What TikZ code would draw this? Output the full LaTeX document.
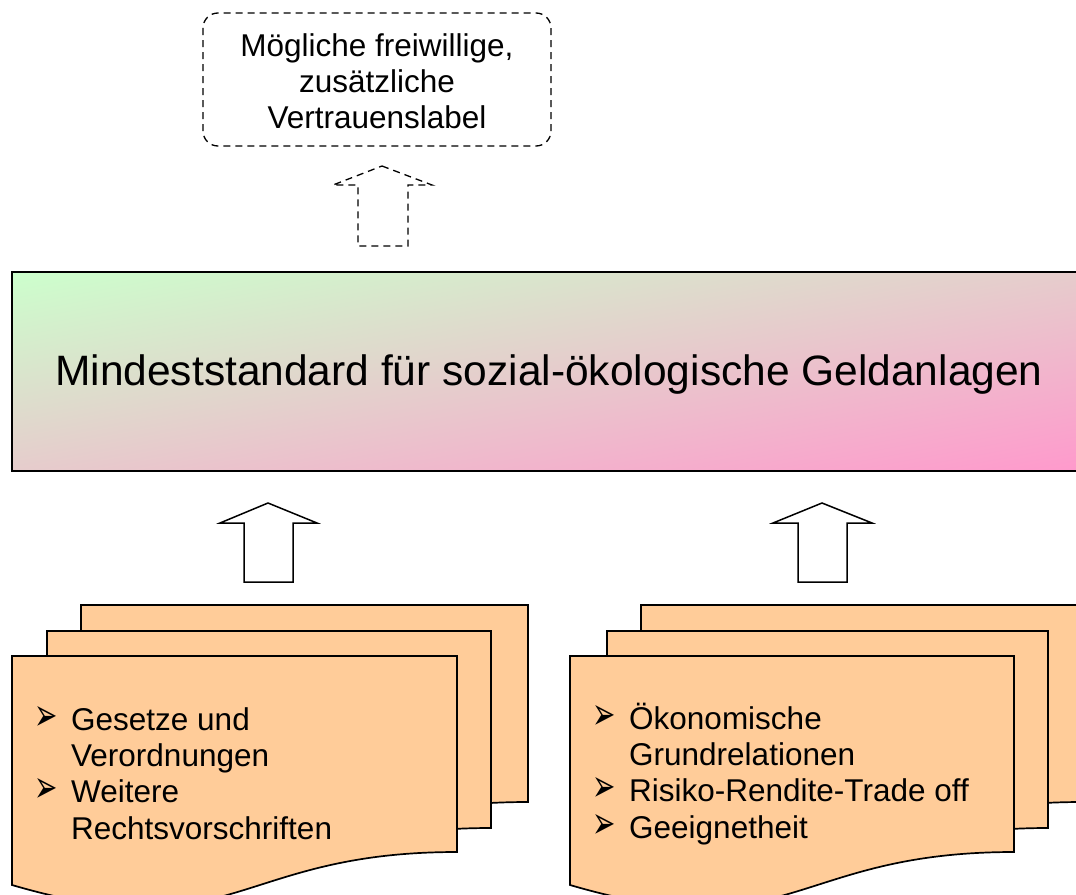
\documentclass[tikz,border=0pt]{standalone}
\usepackage{graphicx}
\usepackage{fontspec}
\setmainfont{Liberation Sans}
\newfontfamily\dingfont{DejaVu Sans}
\usetikzlibrary{calc,shadings}

\definecolor{mintgreen}{RGB}{204,255,204}
\definecolor{rosepink}{RGB}{255,153,204}
\definecolor{midrose}{RGB}{230,204,204}
\definecolor{peach}{RGB}{255,204,153}

% list bullet with hanging indent
\newcommand{\bul}{\makebox[37pt][l]{\scalebox{0.62}[1]{\dingfont\fontsize{45}{36}\selectfont ➢}}}
\newcommand{\ind}{\hspace*{37pt}}

% one sheet of a document stack: left, right, top, bottom-right y
\newcommand{\sheet}[4]{%
  \filldraw[sheetstyle] (#1,#3) -- (#2,#3) -- (#2,#4)
    .. controls ({(#1+#2)/2},#4) and ({(#1+#2)/2},{#4+98}) .. (#1,{#4+33}) -- cycle;}

\tikzset{
  sheetstyle/.style={draw=black, fill=peach, line width=1.7pt, line join=miter},
  hollowarrow/.style={draw=black, fill=white, line width=1.5pt, line join=miter},
  dasharrow/.style={draw=black, fill=white, line width=1.3pt, dash pattern=on 7pt off 5pt},
  bodytext/.style={inner sep=0pt, font=\fontsize{31.5}{35.7}\selectfont},
  listtext/.style={bodytext, align=left, font=\fontsize{31.5}{36.3}\selectfont},
}

\begin{document}
\begin{tikzpicture}[x=1pt, y=-1pt]
  \useasboundingbox (0,0) rectangle (1076,894);
  \clip (0,0) rectangle (1076,894);

  % optional label box (text anchored at the baseline of its last line)
  \draw[dasharrow, rounded corners=15pt] (203,13) rectangle (551,146);
  \node[bodytext, align=center, anchor=base] (extra) at (377,128)
    {Mögliche freiwillige,\\zusätzliche\\Vertrauenslabel};

  % dashed arrow up to the optional label
  \coordinate (dtip) at (382,166);
  \draw[dasharrow] (dtip) -- (432,185) -- (408,185) -- (408,246) -- (358,246)
    -- (358,185) -- (333,185) -- cycle;

  % minimum standard bar
  \shade[upper left=mintgreen, lower right=rosepink, upper right=midrose,
         lower left=midrose] (12,272) rectangle (1086,471);
  \draw[line width=2.4pt] (12,272) rectangle (1086,471);
  \node[inner sep=0pt, font=\fontsize{42.5}{50}\selectfont, anchor=base] (standard)
    at (549,385) {Mindeststandard für sozial-ökologische Geldanlagen};

  % hollow arrows feeding the standard
  \coordinate (ltip) at (268,503);
  \draw[hollowarrow] (ltip) -- (317,523) -- (293,523) -- (293,582) -- (244,582)
    -- (244,523) -- (220,523) -- cycle;
  \coordinate (rtip) at (822,503);
  \draw[hollowarrow] (rtip) -- (872,523) -- (847,523) -- (847,582) -- (798,582)
    -- (798,523) -- (773,523) -- cycle;

  % left document stack
  \sheet{81}{528}{605}{802}
  \sheet{47}{491}{631}{828}
  \sheet{12}{457}{656}{852}
  \node[listtext, anchor=base west] (law) at (34,839)
    {\bul Gesetze und\\\ind Verordnungen\\\bul Weitere\\\ind Rechtsvorschriften};

  % right document stack
  \sheet{641}{1082}{605}{802}
  \sheet{607}{1048}{631}{828}
  \sheet{570}{1014}{656}{852}
  \node[listtext, anchor=base west] (econ) at (592,838)
    {\bul Ökonomische\\\ind Grundrelationen\\\bul Risiko-Rendite-Trade off\\\bul Geeignetheit};
\end{tikzpicture}
\end{document}
